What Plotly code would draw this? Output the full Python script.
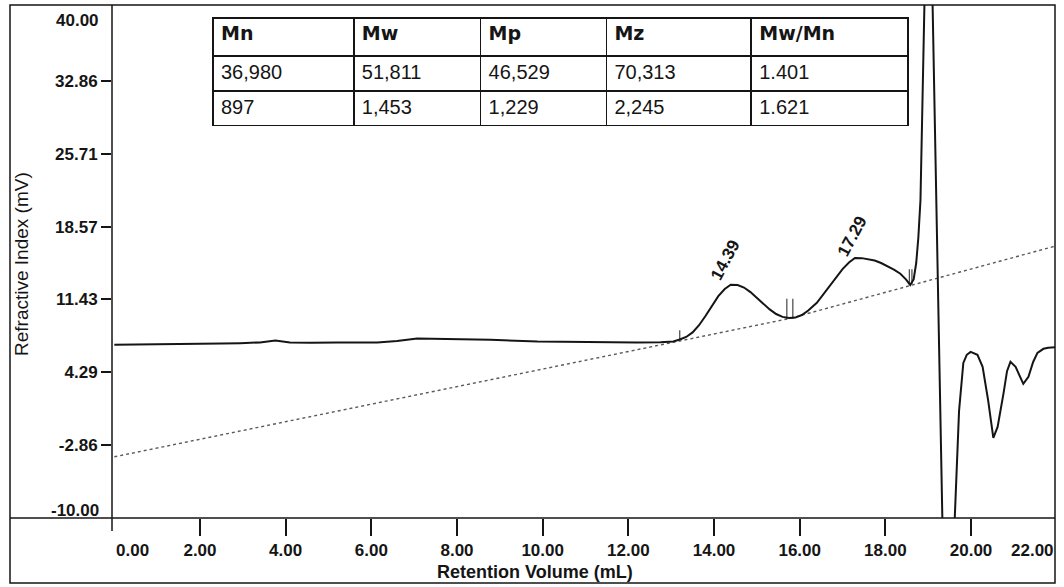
import plotly.graph_objects as go

# GPC refractive-index trace: retention volume (mL) vs detector response (mV)
ret_vol = [0.0, 0.5, 1.0, 1.5, 2.0, 2.5, 2.94, 3.4, 3.76, 4.1, 4.6, 5.2, 6.14, 6.6, 7.07,
           7.8, 8.78, 9.88, 11.18, 12.2, 12.75, 13.05, 13.2, 13.35, 13.5, 13.65, 13.8,
           13.95, 14.1, 14.25, 14.39, 14.55, 14.7, 14.85, 15.0, 15.15, 15.3, 15.45, 15.6,
           15.75, 15.9, 16.05, 16.2, 16.4, 16.6, 16.8, 17.0, 17.15, 17.29, 17.45, 17.6,
           17.75, 17.9, 18.05, 18.2, 18.35, 18.48, 18.58, 18.66, 18.72, 18.77, 18.82,
           19.01, 19.33, 19.42, 19.62, 19.72, 19.82, 19.9, 19.99, 20.15, 20.27, 20.4,
           20.52, 20.62, 20.76, 20.84, 20.92, 21.04, 21.22, 21.34, 21.45, 21.55, 21.69,
           21.8, 21.96]
ri_signal = [6.98, 7.0, 6.98, 7.05, 7.08, 7.1, 7.14, 7.22, 7.4, 7.22, 7.18, 7.22, 7.2,
             7.35, 7.6, 7.55, 7.47, 7.3, 7.22, 7.22, 7.24, 7.3, 7.5, 7.75, 8.2, 8.9, 9.8,
             10.8, 11.75, 12.45, 12.87, 12.85, 12.6, 12.15, 11.6, 11.0, 10.45, 10.0, 9.72,
             9.6, 9.65, 9.9, 10.35, 11.1, 12.2, 13.35, 14.4, 15.05, 15.5, 15.48, 15.4,
             15.25, 15.0, 14.7, 14.35, 13.95, 13.4, 12.85, 13.4, 15.0, 17.5, 21.2,
             60.8, -10.0, -25.0, -10.0, 0.5, 5.2, 6.0, 6.29, 6.0, 4.82, 1.5,
             -2.15, -1.07, 2.27, 4.4, 5.31, 4.82, 3.15, 3.84, 5.3, 6.19, 6.59,
             6.7, 6.75]

# Integration baseline
baseline_vol = [0.0, 15.75, 22.0]
baseline_ri = [-4.0, 9.55, 16.7]

# Peak start / split / end markers
marker_vol = [13.2, 15.70, 15.84, 18.56, 18.62]
marker_lo = [7.5, 9.5, 9.5, 12.9, 12.9]
marker_hi = [8.4, 11.5, 11.5, 14.4, 14.4]

# Peak retention volumes and apex heights
peak_vol = [14.39, 17.29]
peak_ri = [12.87, 15.5]
peak_text = ["14.39", "17.29"]

# Molecular weight results
table_headers = ["Mn", "Mw", "Mp", "Mz", "Mw/Mn"]
results_row1 = ["36,980", "51,811", "46,529", "70,313", "1.401"]
results_row2 = ["897", "1,453", "1,229", "2,245", "1.621"]

# Axis ticks
y_tick_vals = [32.86, 25.71, 18.57, 11.43, 4.29, -2.86]
y_end_labels = ["40.00", "-10.00"]
x_tick_vals = [2, 4, 6, 8, 10, 12, 14, 16, 18, 20]
x_end_labels = ["0.00", "22.00"]

FONT = "Liberation Sans"
WIDE = "DejaVu Sans"
INK = "#151515"

fig = go.Figure()

fig.add_trace(go.Scatter(
    x=baseline_vol, y=baseline_ri, mode="lines",
    line=dict(color="#5a5a5a", width=1.4, dash="dot"),
    hoverinfo="skip", showlegend=False))

mx, my = [], []
for v, lo, hi in zip(marker_vol, marker_lo, marker_hi):
    mx += [v, v, None]
    my += [lo, hi, None]
fig.add_trace(go.Scatter(
    x=mx, y=my, mode="lines", line=dict(color="#444", width=1.2),
    hoverinfo="skip", showlegend=False))

fig.add_trace(go.Scatter(
    x=ret_vol, y=ri_signal, mode="lines",
    line=dict(color=INK, width=2),
    showlegend=False))

for px, py, txt, dx, dy in zip(peak_vol, peak_ri, peak_text, [-5, -2], [25, 22]):
    fig.add_annotation(x=px, y=py, text=txt, showarrow=False, textangle=-62,
                       xshift=dx, yshift=dy,
                       font=dict(family=FONT, size=17, color=INK, weight="bold"))

fig.add_trace(go.Table(
    domain=dict(x=[(213 - 112) / 943, (909 - 112) / 943],
                y=[(518 - 127) / 513, (518 - 18) / 513]),
    columnwidth=[141, 127, 126, 145, 157],
    header=dict(values=table_headers, align="left", height=38,
                line=dict(color=INK, width=1.5), fill_color="white",
                font=dict(family=WIDE, size=19, color=INK, weight="bold")),
    cells=dict(values=[[a, b] for a, b in zip(results_row1, results_row2)],
               align="left", height=35,
               line=dict(color=INK, width=1.5), fill_color="white",
               font=dict(family=FONT, size=20, color=INK)),
))

tick_font = dict(family=FONT, size=17, color=INK, weight="bold")

fig.update_xaxes(range=[-0.054, 21.96], tickvals=x_tick_vals,
                 ticktext=[f"{v:.2f}" for v in x_tick_vals],
                 ticks="outside", ticklen=17, tickwidth=1.5, tickcolor=INK,
                 tickfont=tick_font, showgrid=False, zeroline=False,
                 showline=False)
fig.update_yaxes(range=[-10, 40.3], tickvals=y_tick_vals,
                 ticktext=[f"{v:.2f}" for v in y_tick_vals],
                 ticks="outside", ticklen=10, tickwidth=1.5, tickcolor=INK,
                 tickfont=tick_font, showgrid=False, zeroline=False,
                 showline=False)

# end-of-axis labels nudged inside the frame
for txt, yp in zip(y_end_labels, [(518 - 20) / 513, (518 - 510) / 513]):
    fig.add_annotation(xref="paper", yref="paper", x=(101 - 112) / 943, y=yp,
                       text=txt, showarrow=False, xanchor="right", yanchor="middle",
                       font=tick_font)
for txt, xp in zip(x_end_labels, [(132 - 112) / 943, (1032 - 112) / 943]):
    fig.add_annotation(xref="paper", yref="paper", x=xp, y=(518 - 550) / 513,
                       text=txt, showarrow=False, xanchor="center", yanchor="middle",
                       font=tick_font)

# axis titles
fig.add_annotation(xref="paper", yref="paper", x=(535 - 112) / 943, y=(518 - 572) / 513,
                   text="Retention Volume (mL)", showarrow=False,
                   xanchor="center", yanchor="middle",
                   font=dict(family=FONT, size=18, color=INK, weight="bold"))
fig.add_annotation(xref="paper", yref="paper", x=(21 - 112) / 943, y=(518 - 264) / 513,
                   text="Refractive Index (mV)", showarrow=False, textangle=-90,
                   xanchor="center", yanchor="middle",
                   font=dict(family=FONT, size=19, color=INK))

# frame and axis lines
L, B = (10 - 112) / 943, (518 - 583) / 513
line = dict(color=INK, width=1.5)
fig.add_shape(type="rect", xref="paper", yref="paper", x0=L, y0=B, x1=1, y1=1, line=line)
fig.add_shape(type="line", xref="paper", yref="paper", x0=L, y0=0, x1=1, y1=0, line=line)
fig.add_shape(type="line", xref="paper", yref="paper", x0=0, y0=(518 - 531) / 513,
              x1=0, y1=1, line=line)

fig.update_layout(width=1064, height=587,
                  margin=dict(l=112, r=9, t=5, b=69),
                  paper_bgcolor="white", plot_bgcolor="white",
                  showlegend=False)

fig.write_html("out.html")
